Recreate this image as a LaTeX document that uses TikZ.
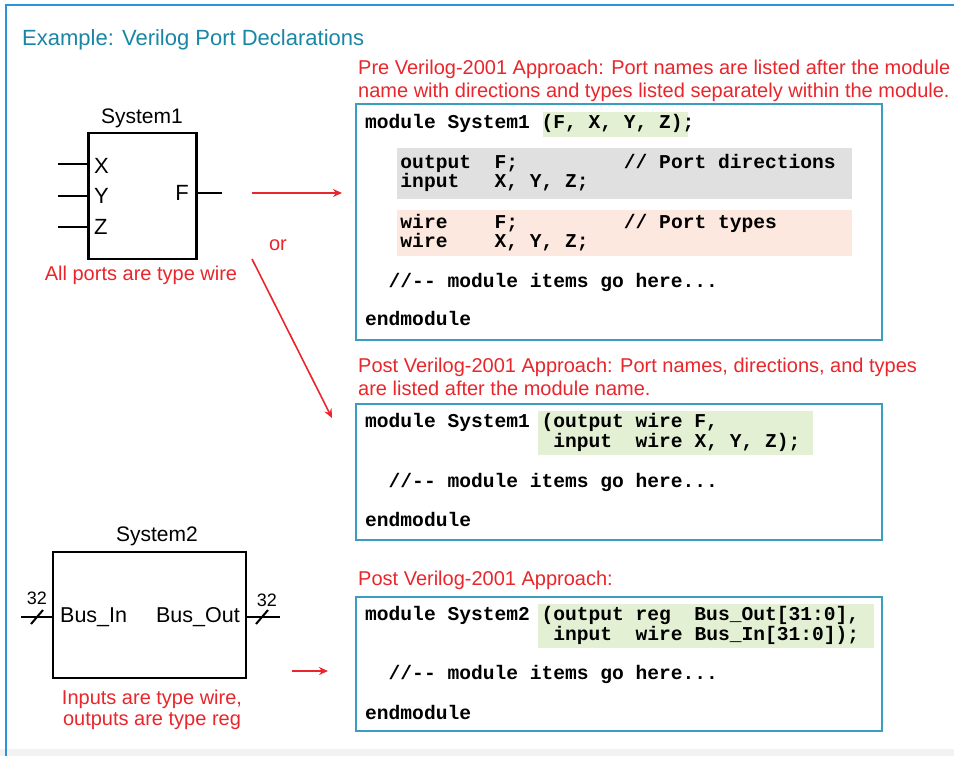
\documentclass[tikz,border=0pt]{standalone}
\usepackage{fontspec}
\setmainfont{Liberation Sans}
\newfontfamily\codefont{Liberation Mono}
\usetikzlibrary{arrows.meta}
\definecolor{redt}{HTML}{E8262B}
\definecolor{tealb}{HTML}{3A9EBE}
\definecolor{titlec}{HTML}{1A86A6}
\definecolor{greenh}{HTML}{E3F0D3}
\definecolor{greyh}{HTML}{E0E0E0}
\definecolor{pinkh}{HTML}{FCE8DE}
\definecolor{framec}{HTML}{2A94D6}
\tikzset{
  codebox/.style={draw=tealb, line width=2pt, fill=none, inner sep=0},
  hl/.style={inner sep=0, draw=none},
  code/.style={anchor=base west, inner sep=0, font=\codefont\bfseries\fontsize{19.6}{20}\selectfont\frenchspacing},
  redtxt/.style={anchor=base west, inner sep=0, text=redt, font=\fontsize{20}{23}\selectfont},
  redc/.style={anchor=base, inner sep=0, text=redt, font=\fontsize{20}{23}\selectfont},
  lbl/.style={anchor=base, inner sep=0, font=\fontsize{21}{24}\selectfont},
  portl/.style={inner sep=0, font=\fontsize{22}{24}\selectfont},
  blk/.style={draw=black, line width=2.5pt, inner sep=0},
  wirel/.style={line width=2.5pt},
  rarrow/.style={draw=redt, line width=1.6pt, -{Stealth[length=9pt,width=8pt]}},
}
\begin{document}
\begin{tikzpicture}[x=1pt,y=-1pt]
\useasboundingbox (0,0) rectangle (954,756);
\fill[white] (0,0) rectangle (954,756);
\fill[black!5] (0,749) rectangle (954,756);
\draw[framec, line width=2pt] (6,756) -- (6,5) -- (960,5);

% title
\node[anchor=base west, inner sep=0, text=titlec, font=\fontsize{22}{26}\selectfont] (title) at (22,45) {Example: Verilog Port Declarations};

% ---------- headers ----------
\node[redtxt] (h1a) at (358,74) {Pre Verilog-2001 Approach: Port names are listed after the module};
\node[redtxt] (h1b) at (358,97) {name with directions and types listed separately within the module.};
\node[redtxt] (h2a) at (358,372) {Post Verilog-2001 Approach: Port names, directions, and types};
\node[redtxt] (h2b) at (358,395) {are listed after the module name.};
\node[redtxt] (h3a) at (358,585) {Post Verilog-2001 Approach:};

% ---------- highlights ----------
\fill[greenh] (543,112) rectangle (688,137);
\fill[greyh] (397,148) rectangle (852,199);
\fill[pinkh] (397,210) rectangle (852,256);
\fill[greenh] (538,411) rectangle (813,455);
\fill[greenh] (538,604) rectangle (874,648);

% ---------- code boxes ----------
\node[codebox, minimum width=526pt, minimum height=236pt] (box1) at (619,221.5) {};
\node[codebox, minimum width=526pt, minimum height=136pt] (box2) at (619,471.5) {};
\node[codebox, minimum width=526pt, minimum height=134pt] (box3) at (619,663.5) {};

% box 1 code
\node[code] (c11) at (365,128) {module System1 (F, X, Y, Z);};
\node[code] (c12) at (365,168) {~~~output~~F;~~~~~~~~~/{}/ Port directions};
\node[code] (c13) at (365,187.5) {~~~input~~~X, Y, Z;};
\node[code] (c14) at (365,228) {~~~wire~~~~F;~~~~~~~~~/{}/ Port types};
\node[code] (c15) at (365,247.5) {~~~wire~~~~X, Y, Z;};
\node[code] (c16) at (365,287) {~~/{}/-{}- module items go here...};
\node[code] (c17) at (365,325.5) {endmodule};

% box 2 code
\node[code] (c21) at (365,427) {module System1 (output wire F,};
\node[code] (c22) at (365,447) {~~~~~~~~~~~~~~~~input~~wire X, Y, Z);};
\node[code] (c23) at (365,487) {~~/{}/-{}- module items go here...};
\node[code] (c24) at (365,526) {endmodule};

% box 3 code
\node[code] (c31) at (365,620) {module System2 (output reg~~Bus\_Out[31:0],};
\node[code] (c32) at (365,640) {~~~~~~~~~~~~~~~~input~~wire Bus\_In[31:0]);};
\node[code] (c33) at (365,679.5) {~~/{}/-{}- module items go here...};
\node[code] (c34) at (365,719) {endmodule};

% ---------- System1 ----------
\node[lbl] (s1lbl) at (142,123) {System1};
\node[blk, minimum width=108pt, minimum height=126pt] (s1) at (142.5,196) {};
\coordinate (xin) at (58,164);
\coordinate (yin) at (58,196);
\coordinate (zin) at (58,227);
\coordinate (fout) at (222,193);
\draw[wirel] (xin) -- (xin -| s1.west);
\draw[wirel] (yin) -- (yin -| s1.west);
\draw[wirel] (zin) -- (zin -| s1.west);
\draw[wirel] (fout -| s1.east) -- (fout);
\node[portl, anchor=west] (px) at (94,166) {X};
\node[portl, anchor=west] (py) at (94,196) {Y};
\node[portl, anchor=west] (pz) at (94,227) {Z};
\node[portl, anchor=east] (pf) at (189,193) {F};
\node[redc] (allw) at (141,280) {All ports are type wire};

\node[redc] (or) at (278,250) {or};

% arrows
\coordinate (a1s) at (252,193);
\coordinate (a1e) at (342,193);
\coordinate (a2s) at (252,259);
\coordinate (a2e) at (332,418);
\coordinate (a3s) at (292,671);
\coordinate (a3e) at (328,671);
\draw[rarrow] (a1s) -- (a1e);
\draw[rarrow] (a2s) -- (a2e);
\draw[rarrow] (a3s) -- (a3e);

% ---------- System2 ----------
\node[lbl] (s2lbl) at (157,541) {System2};
\node[blk, minimum width=193pt, minimum height=126pt] (s2) at (149.5,615) {};
\coordinate (bin) at (21,617);
\coordinate (bout) at (280,617);
\draw[wirel] (bin) -- (bin -| s2.west);
\draw[wirel] (bout -| s2.east) -- (bout);
\draw[line width=2pt] (31,624) -- (43,610);
\draw[line width=2pt] (256,624) -- (268,610);
\node[anchor=base, inner sep=0, font=\fontsize{18}{20}\selectfont] (n32a) at (37,604) {32};
\node[anchor=base, inner sep=0, font=\fontsize{18}{20}\selectfont] (n32b) at (267,606) {32};
\node[portl, anchor=west, font=\fontsize{21.5}{24}\selectfont] (bi) at (60,617) {Bus\_In};
\node[portl, anchor=east, font=\fontsize{21.5}{24}\selectfont] (bo) at (240,617) {Bus\_Out};
\node[redc] (inw) at (152,704) {Inputs are type wire,};
\node[redc] (outr) at (152,725) {outputs are type reg};
\end{tikzpicture}
\end{document}
